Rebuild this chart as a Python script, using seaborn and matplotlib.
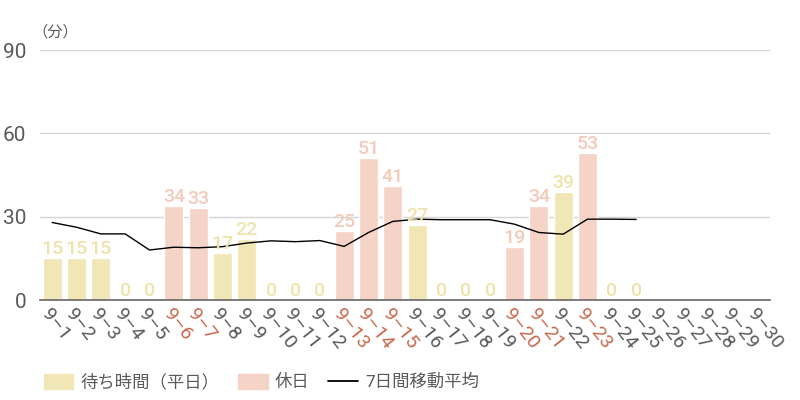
import seaborn as sns
import matplotlib.pyplot as plt
import pandas as pd
import numpy as np
from matplotlib.patches import Patch
from matplotlib.lines import Line2D

sns.set_theme(style="white")
plt.rcParams['font.family'] = ['Roboto', 'Noto Sans CJK JP', 'DejaVu Sans']

# --- data ---
days = [f"9-{d}" for d in range(1, 31)]
wait_days = days[:25]
wait_min = [15, 15, 15, 0, 0, 34, 33, 17, 22, 0, 0, 0, 25, 51, 41,
            27, 0, 0, 0, 19, 34, 39, 53, 0, 0]
holidays = ["9-6", "9-7", "9-13", "9-14", "9-15", "9-20", "9-21", "9-23"]
moving_avg = [27.9, 26.2, 23.8, 23.8, 18.0, 19.0, 18.8, 19.2, 20.5, 21.3,
              21.0, 21.4, 19.3, 24.3, 28.3, 29.1, 28.9, 28.9, 28.9, 27.3,
              24.3, 23.7, 29.1, 29.1, 29.0]

WEEKDAY = "待ち時間（平日）"
HOLIDAY = "休日"
c_week = "#f1e6b6"
c_hol = "#f5d3c6"
c_week_txt = "#efe3ac"
c_hol_txt = "#f2cbbb"
c_hol_tick = "#c9694c"
c_grey = "#5a5a5a"

df = pd.DataFrame({
    "day": wait_days,
    "minutes": wait_min,
    "kind": [HOLIDAY if d in holidays else WEEKDAY for d in wait_days],
})

fig = plt.figure(figsize=(8, 4), dpi=100)
ax = fig.add_axes([0.05, 0.25, 0.9125, 0.625])

sns.barplot(data=df, x="day", y="minutes", hue="kind", order=days,
            hue_order=[WEEKDAY, HOLIDAY], palette=[c_week, c_hol],
            saturation=1, dodge=False, width=0.78, legend=False, ax=ax)

# value labels
for cont, col in zip(ax.containers, [c_week_txt, c_hol_txt]):
    labels = ["" if np.isnan(v) else f"{int(v)}" for v in cont.datavalues]
    ax.bar_label(cont, labels=labels, padding=0, color=col,
                 fontsize=14, fontweight="medium")

# moving average
ax.plot(range(len(moving_avg)), moving_avg, color="black", lw=1)

ax.set_xlim(-0.5, len(days) - 0.5)
ax.set_ylim(0, 90)
ax.set_yticks([0, 30, 60, 90])
ax.yaxis.grid(True, color="#d5d5d5", lw=1)
ax.set_axisbelow(True)
for s in ["top", "right", "left"]:
    ax.spines[s].set_visible(False)
ax.spines["bottom"].set_color("#666666")
ax.spines["bottom"].set_linewidth(1.2)
ax.set_xlabel("")
ax.set_ylabel("")
ax.tick_params(axis="y", length=0, labelsize=15, labelcolor=c_grey, pad=10)
ax.tick_params(axis="x", length=0, labelsize=14, pad=4)
ax.set_xticks(range(len(days)))
ax.set_xticklabels([d.replace("-", "–") for d in days], rotation=-52,
                   ha="left", va="top", rotation_mode="anchor")
for lab, d in zip(ax.get_xticklabels(), days):
    lab.set_color(c_hol_tick if d in holidays else c_grey)

ax.text(-0.01, 1.04, "（分）", transform=ax.transAxes, fontsize=11,
        color=c_grey, ha="left", va="bottom")

handles = [Patch(color=c_week, label=WEEKDAY),
           Patch(color=c_hol, label=HOLIDAY),
           Line2D([], [], color="black", lw=1.3, label="7日間移動平均")]
leg = fig.legend(handles=handles, loc="lower left",
                 bbox_to_anchor=(0.035, -0.015), ncol=3, frameon=False,
                 fontsize=12.5, handlelength=1.7, handleheight=0.9,
                 columnspacing=1.1, handletextpad=0.4)
for t in leg.get_texts():
    t.set_color(c_grey)

fig.savefig("out.png", dpi=100)
